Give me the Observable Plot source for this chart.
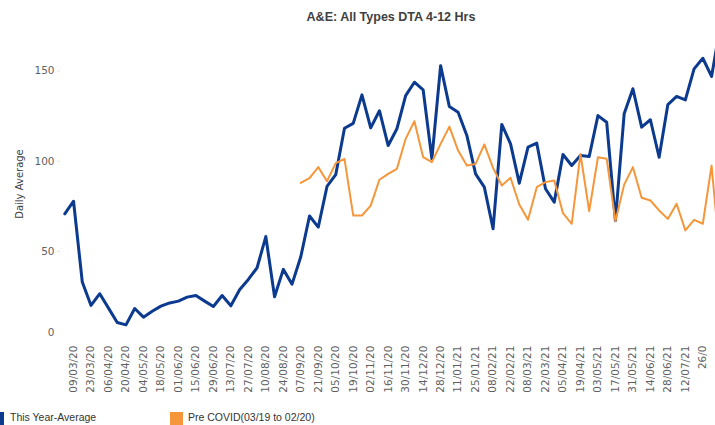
<!DOCTYPE html>
<html><head><meta charset="utf-8">
<script src="https://cdn.jsdelivr.net/npm/d3@7"></script>
<script src="https://cdn.jsdelivr.net/npm/@observablehq/plot@0.6"></script>
<style>
html,body{margin:0;padding:0;background:#fff;overflow:hidden;}
#wrap{position:relative;width:715px;height:425px;overflow:hidden;background:#fff;}
#title{position:absolute;left:0;width:782px;top:10px;text-align:center;font:bold 12.5px "Liberation Sans",Arial,sans-serif;color:#404040;white-space:nowrap;}
#ytitle{position:absolute;left:19px;top:184px;transform:translate(-50%,-50%) rotate(-90deg);font:10px "DejaVu Sans",sans-serif;color:#404040;white-space:nowrap;}
#chart{position:absolute;left:0;top:0;}
.sw{position:absolute;top:412px;width:13px;height:14px;}
.lt{position:absolute;top:411px;font:10.5px "Liberation Sans",Arial,sans-serif;color:#333;white-space:nowrap;}
</style>
</head><body>
<div id="wrap">
  <div id="chart"></div>
  <div id="title">A&amp;E: All Types DTA 4-12 Hrs</div>
  <div id="ytitle">Daily Average</div>
  <div id="legend"></div>
</div>
<script>
const dates = ["02/03/20","09/03/20","16/03/20","23/03/20","30/03/20","06/04/20","13/04/20","20/04/20","27/04/20","04/05/20",
"11/05/20","18/05/20","25/05/20","01/06/20","08/06/20","15/06/20","22/06/20","29/06/20","06/07/20","13/07/20",
"20/07/20","27/07/20","03/08/20","10/08/20","17/08/20","24/08/20","31/08/20","07/09/20","14/09/20","21/09/20",
"28/09/20","05/10/20","12/10/20","19/10/20","26/10/20","02/11/20","09/11/20","16/11/20","23/11/20","30/11/20",
"07/12/20","14/12/20","21/12/20","28/12/20","04/01/21","11/01/21","18/01/21","25/01/21","01/02/21","08/02/21",
"15/02/21","22/02/21","01/03/21","08/03/21","15/03/21","22/03/21","29/03/21","05/04/21","12/04/21","19/04/21",
"26/04/21","03/05/21","10/05/21","17/05/21","24/05/21","31/05/21","07/06/21","14/06/21","21/06/21","28/06/21",
"05/07/21","12/07/21","19/07/21","26/07/21","02/08/21","09/08/21"];

const thisYear = [70.8,77.8,33,20,26.5,18.5,10.5,9.2,18.3,13.5,
16.8,19.6,21.4,22.4,24.6,25.5,22.4,19.4,25.5,19.8,
28.7,34.4,40.9,58.2,24.8,40,31.8,47,69.6,63.4,
86,92.5,118.3,121,136.8,118.5,128,108.7,118,136.4,
143.8,139.6,101.3,153,130.3,127.2,114.3,93,85.6,62.5,
120.4,109.6,87.8,107.8,110,84.7,77.3,103.7,97.6,103.2,
102.6,125.3,121.6,67.1,126.3,140.2,118.9,123,102.2,131.4,
135.9,134,151.2,157.1,147,175];

const preCovid = [null,null,null,null,null,null,null,null,null,null,
null,null,null,null,null,null,null,null,null,null,
null,null,null,null,null,null,null,88,90.6,96.7,
88.9,98.9,101.3,69.9,69.9,75.4,89.7,93,95.8,112.4,
122.2,102.2,99.5,109.6,119.2,105.9,97.6,98.5,109.3,96.3,
86.5,90.8,76,67.5,85.6,88.4,89.3,71.2,65.3,104,
72.3,102.2,101.3,66.7,87,96.7,79.7,78.2,72.7,68,
76.4,61.6,67.5,65.3,97.6,45];

const tickDates = dates.filter((d, i) => i % 2 === 1 && i <= 73);
const tickLabels = ["09/03/20","23/03/20","06/04/20","20/04/20","04/05/20","18/05/20","01/06/20","15/06/20","29/06/20","13/07/20",
"27/07/20","10/08/20","24/08/20","07/09/20","21/09/20","05/10/20","19/10/20","02/11/20","16/11/20","30/11/20",
"14/12/20","28/12/20","11/01/21","25/01/21","08/02/21","22/02/21","08/03/21","22/03/21","05/04/21","19/04/21",
"03/05/21","17/05/21","31/05/21","14/06/21","28/06/21","12/07/21","26/0"];
const yTicks = [50, 100, 150];
const seriesNames = ["This Year-Average", "Pre COVID(03/19 to 02/20)"];
const seriesColors = ["#0B3A8F", "#F5963A"];

const labelMap = new Map(tickDates.map((d, i) => [d, tickLabels[i]]));
const blueRows = dates.map((d, i) => ({date: d, value: thisYear[i]}));
const orangeRows = dates.map((d, i) => ({date: d, value: preCovid[i]})).filter(r => r.value != null);

const chart = Plot.plot({
  width: 715, height: 408,
  marginLeft: 60, marginRight: 0, marginTop: 30, marginBottom: 67,
  style: {fontFamily: "'DejaVu Sans', sans-serif", fontSize: "10.5px", color: "#5f5f5f", background: "transparent", overflow: "hidden"},
  x: {type: "point", domain: dates, range: [64.3, 64.3 + 8.74 * 75], padding: 0},
  y: {domain: [0, 170], range: [341, 341 - 170 * 1.803]},
  marks: [
    Plot.axisY({ticks: yTicks, tickSize: 3, tickPadding: 3, stroke: "#e3e3e3", fill: "#5f5f5f", label: null}),
    Plot.axisY({ticks: [0], tickSize: 0, tickPadding: 6, dy: -9, fill: "#5f5f5f", label: null}),
    Plot.axisX({ticks: tickDates, tickFormat: d => labelMap.get(d), tickRotate: -90, tickSize: 0, tickPadding: 4, fill: "#5f5f5f", label: null}),
    Plot.line(blueRows, {x: "date", y: "value", stroke: seriesColors[0], strokeWidth: 3}),
    Plot.line(orangeRows, {x: "date", y: "value", stroke: seriesColors[1], strokeWidth: 2})
  ]
});
document.getElementById("chart").appendChild(chart);

const legend = document.getElementById("legend");
const legendPos = [[-9, 10], [170, 188]];
seriesNames.forEach((name, i) => {
  const sw = document.createElement("span");
  sw.className = "sw";
  sw.style.left = legendPos[i][0] + "px";
  sw.style.background = seriesColors[i];
  const t = document.createElement("span");
  t.className = "lt";
  t.style.left = legendPos[i][1] + "px";
  t.textContent = name;
  legend.appendChild(sw);
  legend.appendChild(t);
});
</script>
</body></html>
